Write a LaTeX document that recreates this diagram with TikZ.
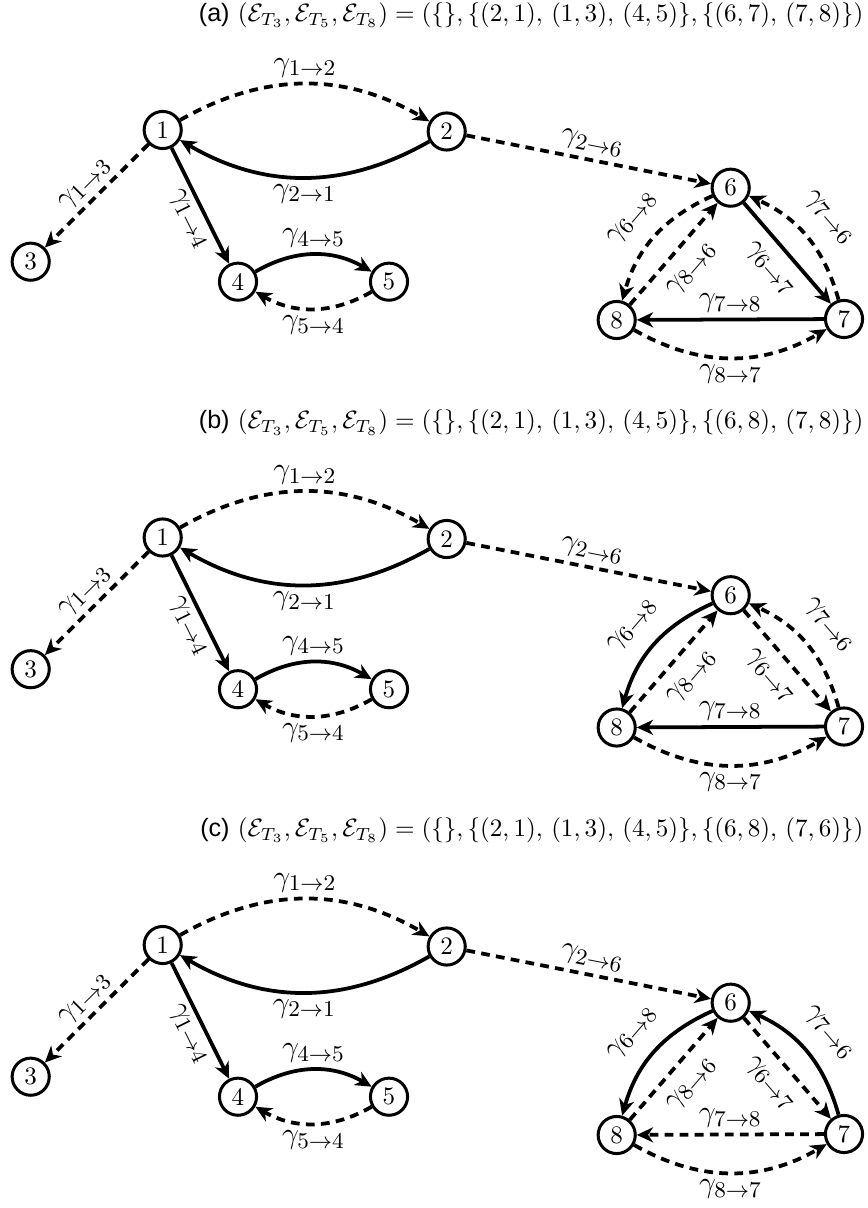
\documentclass[tikz,border=0pt]{standalone}
\usepackage{amsmath,amssymb}
\usepackage{fontspec}
\newfontfamily\capfont{Liberation Sans}
\usetikzlibrary{positioning, calc, arrows.meta}

% nodes and edges that all three panels share (#1 = panel letter)
\newcommand{\sharedpart}[1]{%
    % Nodes of the left component
    \node[vertex] (#1n1) at (162.7,-130) {1};
    \node[vertex] (#1n2) at (446.7,-131.5) {2};
    \node[vertex] (#1n3) at (30.7,-261.7) {3};
    \node[vertex] (#1n4) at (238,-281.7) {4};
    \node[vertex] (#1n5) at (389,-281.7) {5};
    % Nodes of the triangle
    \node[vertex] (#1n6) at (730.7,-187.7) {6};
    \node[vertex] (#1n7) at (844,-319) {7};
    \node[vertex] (#1n8) at (616.7,-320) {8};
    % Edges of the left component
    \draw[dashedge] (#1n1) to[bend left=30] node[lab, above] {$\gamma_{1\rightarrow 2}$} (#1n2);
    \draw[solidedge] (#1n2) to[bend left=30] node[lab, below] {$\gamma_{2\rightarrow 1}$} (#1n1);
    \draw[dashedge] (#1n1) -- node[lab, sloped, above] {$\gamma_{1\rightarrow 3}$} (#1n3);
    \draw[solidedge] (#1n1) -- node[lab, sloped, below, pos=0.55] {$\gamma_{1\rightarrow 4}$} (#1n4);
    \draw[solidedge] (#1n4) to[bend left=30] node[lab, above] {$\gamma_{4\rightarrow 5}$} (#1n5);
    \draw[dashedge] (#1n5) to[bend left=30] node[lab, below] {$\gamma_{5\rightarrow 4}$} (#1n4);
    \draw[dashedge] (#1n2) -- node[lab, sloped, above] {$\gamma_{2\rightarrow 6}$} (#1n6);
    % Triangle edges that stay the same
    \draw[dashedge] (#1n8) -- node[lab, sloped, below=3pt] {$\gamma_{8\rightarrow 6}$} (#1n6);
    \draw[dashedge] (#1n8) to[bend right=30] node[lab, below] {$\gamma_{8\rightarrow 7}$} (#1n7);
}

\begin{document}
\begin{tikzpicture}[
        x=0.014cm, y=0.014cm,
        vertex/.style={circle, draw, line width=1.2pt, minimum size=0.52cm, inner sep=0pt},
        solidedge/.style={-{Stealth[length=6.5pt, width=6pt, inset=2pt]}, line width=1.5pt},
        dashedge/.style={solidedge, dash pattern=on 3.5pt off 2.5pt},
        lab/.style={inner sep=2pt, font=\fontsize{13}{15}\selectfont},
        caption/.style={anchor=east, inner sep=0pt}
    ]
    \useasboundingbox (0,0) rectangle (867,-1208);

    % Panel (a)
    \begin{scope}
        \node[caption] (atitle) at (864,-15) {{\capfont (a)} $(\mathcal{E}_{T_3},\mathcal{E}_{T_5},\mathcal{E}_{T_8}) = (\{\},\{(2,1),\,(1,3),\,(4,5)\},\{(6,7),\,(7,8)\})$};
        \sharedpart{a}
        \draw[solidedge] (an6) -- node[lab, sloped, below=3pt] {$\gamma_{6\rightarrow 7}$} (an7);
        \draw[dashedge] (an7) to[bend right=25] node[lab, sloped, above=5pt] {$\gamma_{7\rightarrow 6}$} (an6);
        \draw[dashedge] (an6) to[bend right=25] node[lab, sloped, above=5pt] {$\gamma_{6\rightarrow 8}$} (an8);
        \draw[solidedge] (an7) -- node[lab, above] {$\gamma_{7\rightarrow 8}$} (an8);
    \end{scope}

    % Panel (b)
    \begin{scope}[shift={(0,-407.5)}]
        \node[caption] (btitle) at (864,-15) {{\capfont (b)} $(\mathcal{E}_{T_3},\mathcal{E}_{T_5},\mathcal{E}_{T_8}) = (\{\},\{(2,1),\,(1,3),\,(4,5)\},\{(6,8),\,(7,8)\})$};
        \sharedpart{b}
        \draw[dashedge] (bn6) -- node[lab, sloped, below=3pt] {$\gamma_{6\rightarrow 7}$} (bn7);
        \draw[dashedge] (bn7) to[bend right=25] node[lab, sloped, above=5pt] {$\gamma_{7\rightarrow 6}$} (bn6);
        \draw[solidedge] (bn6) to[bend right=25] node[lab, sloped, above=5pt] {$\gamma_{6\rightarrow 8}$} (bn8);
        \draw[solidedge] (bn7) -- node[lab, above] {$\gamma_{7\rightarrow 8}$} (bn8);
    \end{scope}

    % Panel (c)
    \begin{scope}[shift={(0,-815)}]
        \node[caption] (ctitle) at (864,-15) {{\capfont (c)} $(\mathcal{E}_{T_3},\mathcal{E}_{T_5},\mathcal{E}_{T_8}) = (\{\},\{(2,1),\,(1,3),\,(4,5)\},\{(6,8),\,(7,6)\})$};
        \sharedpart{c}
        \draw[dashedge] (cn6) -- node[lab, sloped, below=3pt] {$\gamma_{6\rightarrow 7}$} (cn7);
        \draw[solidedge] (cn7) to[bend right=25] node[lab, sloped, above=5pt] {$\gamma_{7\rightarrow 6}$} (cn6);
        \draw[solidedge] (cn6) to[bend right=25] node[lab, sloped, above=5pt] {$\gamma_{6\rightarrow 8}$} (cn8);
        \draw[dashedge] (cn7) -- node[lab, above] {$\gamma_{7\rightarrow 8}$} (cn8);
    \end{scope}

\end{tikzpicture}
\end{document}
